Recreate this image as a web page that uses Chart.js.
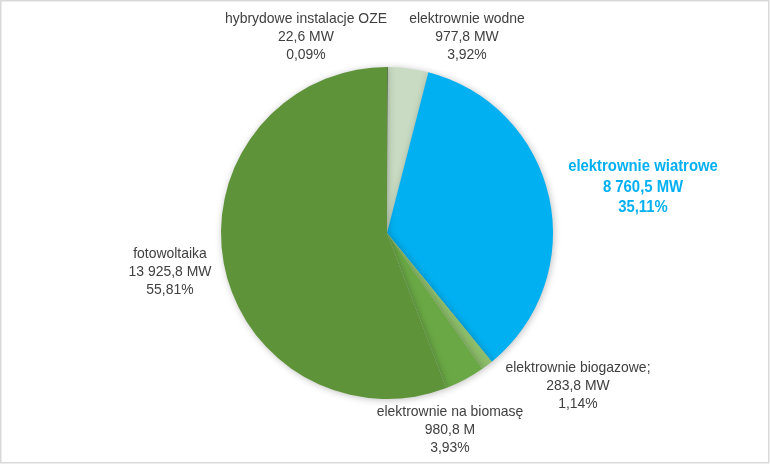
<!DOCTYPE html>
<html>
<head>
<meta charset="utf-8">
<script src="https://cdn.jsdelivr.net/npm/chart.js@4.4.1/dist/chart.umd.min.js"></script>
<style>
  html, body { margin: 0; padding: 0; background: #fff; }
  #wrap { width: 770px; height: 464px; }
</style>
</head>
<body>
<div id="wrap"><canvas id="wykres" width="770" height="464"></canvas></div>
<script>
// Dane - moc zainstalowana OZE
const kategorie = [
  'hybrydowe instalacje OZE',
  'elektrownie wodne',
  'elektrownie wiatrowe',
  'elektrownie biogazowe;',
  'elektrownie na biomasę',
  'fotowoltaika'
];
const mocMW = [22.6, 977.8, 8760.5, 283.8, 980.8, 13925.8];
const opisyMocy = ['22,6 MW', '977,8 MW', '8 760,5 MW', '283,8 MW', '980,8 M', '13 925,8 MW'];
const kolory = ['#5a7a44', '#c9dcc3', '#00b0f0', '#8cbd6a', '#6aa845', '#5e9339'];

// Położenie etykiet względem środka koła (pierwsza linia), w kolejności kategorii
const przesuniecia = [[-81, -214], [80, -214], [256, -66], [191, 135], [63, 179], [-217, 21]];

const suma = mocMW.reduce((a, b) => a + b, 0);
const procenty = mocMW.map(v => (v / suma * 100).toFixed(2).replace('.', ',') + '%');

const FONT = '"Liberation Sans", Arial, sans-serif';
const ZWEZENIE = 0.93; // tekst lekko zwężony jak w oryginale

const tloRamka = {
  id: 'tloRamka',
  beforeDraw(chart) {
    const ctx = chart.ctx;
    ctx.save();
    ctx.fillStyle = '#fff';
    ctx.fillRect(0, 0, chart.width, chart.height);
    ctx.strokeStyle = '#d9d9d9';
    ctx.lineWidth = 1.5;
    ctx.strokeRect(0.75, 0.75, chart.width - 2, chart.height - 2);
    ctx.restore();
  }
};

const cien = {
  id: 'cien',
  beforeDatasetDraw(chart) {
    const ctx = chart.ctx;
    ctx.save();
    ctx.shadowColor = 'rgba(0,0,0,0.25)';
    ctx.shadowBlur = 7;
    ctx.shadowOffsetX = 1;
    ctx.shadowOffsetY = 1;
  },
  afterDatasetDraw(chart) {
    chart.ctx.restore();
  }
};

const etykiety = {
  id: 'etykiety',
  afterDraw(chart) {
    const ctx = chart.ctx;
    const luk = chart.getDatasetMeta(0).data[0];
    const cx = luk.x, cy = luk.y;
    ctx.save();
    ctx.textAlign = 'center';
    ctx.textBaseline = 'middle';
    kategorie.forEach((kat, i) => {
      const [dx, dy] = przesuniecia[i];
      const wiatr = i === 2;
      ctx.fillStyle = wiatr ? '#00b0f0' : '#404040';
      ctx.font = (wiatr ? 'bold 16px ' : '15px ') + FONT;
      const krok = wiatr ? 20.5 : 18;
      [kat, opisyMocy[i], procenty[i]].forEach((t, j) => {
        ctx.save();
        ctx.translate(cx + dx, cy + dy + j * krok);
        ctx.scale(ZWEZENIE, 1);
        ctx.fillText(t, 0, 0);
        ctx.restore();
      });
    });
    ctx.restore();
  }
};

new Chart(document.getElementById('wykres'), {
  type: 'pie',
  data: {
    labels: kategorie,
    datasets: [{
      data: mocMW,
      backgroundColor: kolory,
      borderWidth: 0
    }]
  },
  options: {
    responsive: false,
    animation: false,
    layout: { padding: { left: 4, right: 0, top: 67, bottom: 65 } },
    plugins: {
      legend: { display: false },
      tooltip: { enabled: false }
    }
  },
  plugins: [tloRamka, cien, etykiety]
});
</script>
</body>
</html>
